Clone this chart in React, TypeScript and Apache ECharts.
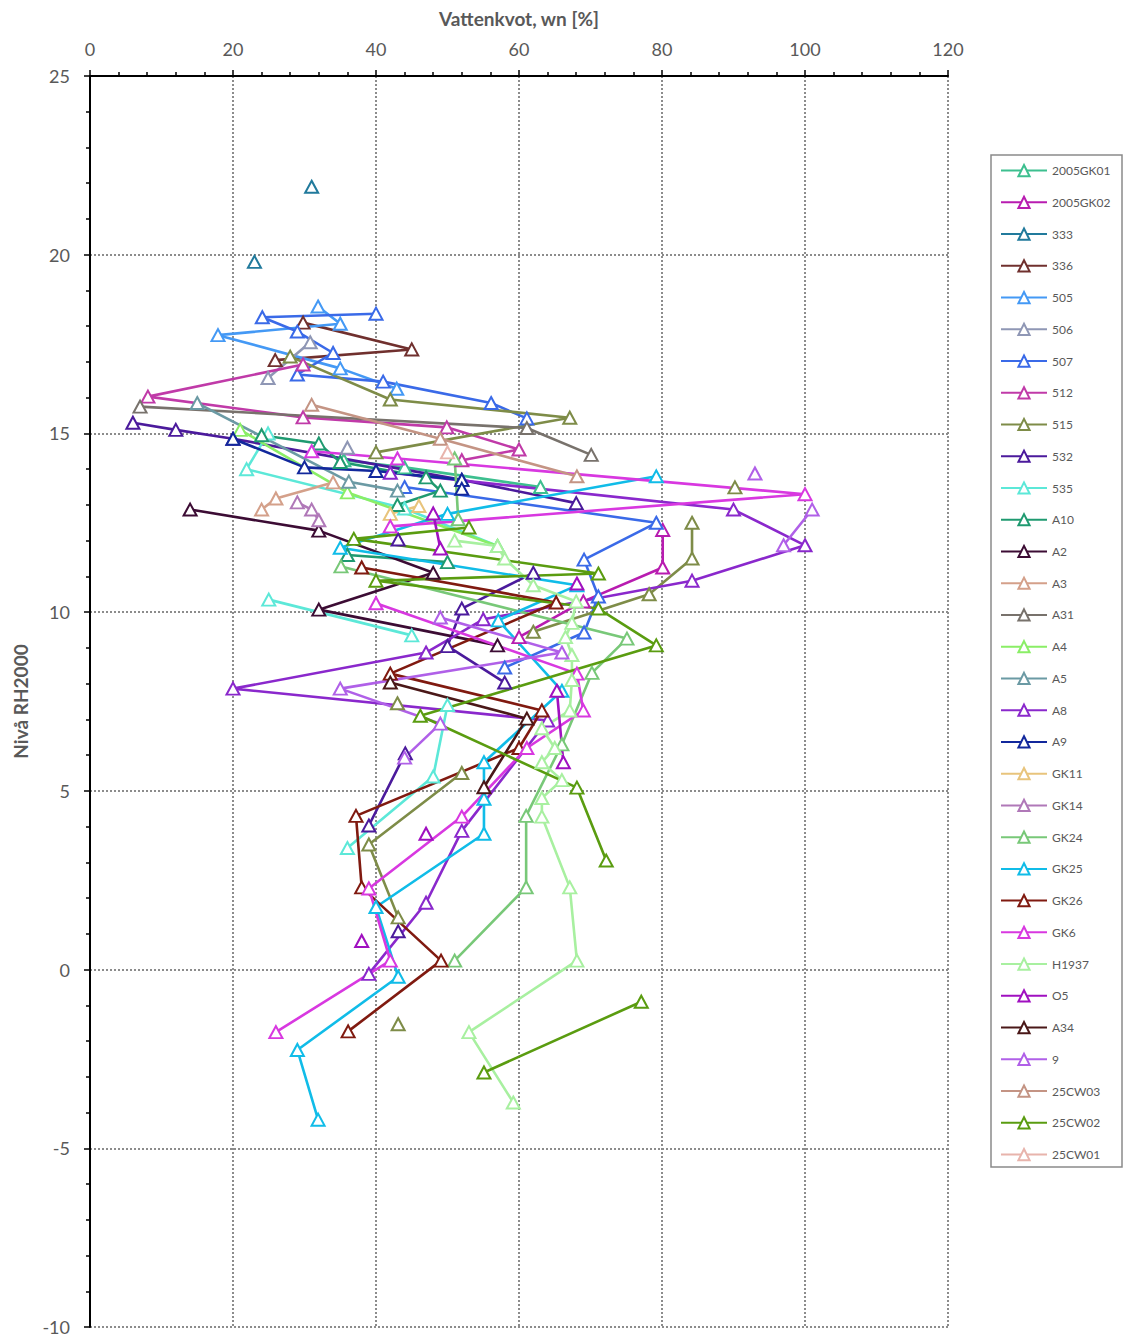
import React, { useEffect, useRef } from "react";
import * as echarts from "echarts";

// Water content (x, %) against level RH2000 (y, m) per borehole.
// A ["-", "-"] entry breaks the line between samples.
const GAP: any = ["-", "-"];

const xTicks = [0, 20, 40, 60, 80, 100, 120];
const yTicks = [-10, -5, 0, 5, 10, 15, 20, 25];

const s2005GK01 = [[35.5, 14.25], [44, 14.05], [63, 13.5]];
const s2005GK02 = [[80.1, 12.3], [80.1, 11.25], [69, 10.3], [60, 9.3]];
const s333 = [[31, 21.9], GAP, [23, 19.8]];
const s336 = [[29.8, 18.1], [45, 17.35], [25.9, 17.05]];
const s505 = [[31.9, 18.55], [35, 18.07], [17.9, 17.75], [35, 16.82], [42.9, 16.25]];
const s506 = [[30.8, 17.55], [24.9, 16.55], GAP, [36, 14.6]];
const s507 = [
  [40, 18.35], [24.1, 18.25], [29, 17.85], [34, 17.25], [29, 16.65], [41, 16.45],
  [56.1, 15.85], [61.1, 15.42], GAP, [44, 13.5], [79.2, 12.5], [69.1, 11.47],
  [71.1, 10.44], [69.1, 9.43], [58, 8.45],
];
const s512 = [[29.8, 16.93], [8.1, 16.03], [29.8, 15.45], [49.9, 15.17], [60, 14.55], [52, 14.25]];
const s515 = [
  [28, 17.15], [42, 15.95], [67.1, 15.44], [40, 14.47], GAP, [90.2, 13.49], GAP,
  [84.2, 12.5], [84.2, 11.5], [78.2, 10.5], [62, 9.45], GAP, [43, 7.45], GAP,
  [52, 5.5], [39, 3.5], [43.1, 1.46], GAP, [43.1, -1.53],
];
const s532 = [
  [6, 15.3], [12, 15.1], [20, 14.85], [52, 13.7], [68, 13.05], GAP, [43.1, 12.03], GAP,
  [62, 11.1], [52, 10.1], [50, 9.05], [58, 8.03], GAP, [44.1, 6.05], [39, 4.03], GAP, [43.1, 1.07],
];
const s535 = [
  [24.9, 15.0], [21.9, 14.0], [44, 12.9], [57, 11.85], GAP, [25, 10.35], [45, 9.35], GAP,
  [50, 7.4], [48, 5.4], [36, 3.4],
];
const sA10 = [[24, 14.95], [32, 14.72], [35, 14.2], [47, 13.77], [49, 13.4], [43, 13.0], GAP, [36, 11.6], [50, 11.4]];
const sA2 = [[14, 12.87], [32, 12.28], [48, 11.1], [32, 10.07], [57, 9.07]];
const sA3 = [[34, 13.63], [26, 13.18], [24, 12.87]];
const sA31 = [[7, 15.75], [61.1, 15.15], [70.1, 14.4]];
const sA4 = [[21, 15.1], [36, 13.35], [57, 11.85]];
const sA5 = [[15, 15.85], [36.2, 13.65], [43, 13.4]];
const sA8 = [
  [42, 13.9], [90, 12.87], [100, 11.87], [84.2, 10.88], [55, 9.8], [47, 8.87], [20, 7.86],
  [64, 6.97], [52, 3.88], [47, 1.87], [39, -0.12],
];
const sA9 = [[20, 14.85], [30, 14.05], [40, 13.95], [52, 13.7], [52, 13.45]];
const sGK11 = [[46, 12.97], [42, 12.75]];
const sGK14 = [[29, 13.07], [31, 12.87], [32, 12.57]];
const sGK24 = [
  [51, 14.3], [51.5, 12.6], GAP, [35.1, 11.28], [75.1, 9.26], [70.2, 8.3], [66, 6.3],
  [61, 4.3], [61, 2.3], [51, 0.25],
];
const sGK25 = [
  [79.2, 13.8], [50, 12.75], [35, 11.8], [68.1, 10.75], [57.1, 9.77], [66, 7.8], [55.1, 5.8],
  [55.1, 4.78], [55.1, 3.8], [40, 1.75], [43.1, -0.2], [29, -2.25], [31.9, -4.2],
];
const sGK26 = [
  [38, 11.25], [65.2, 10.27], [42, 8.28], [63.2, 7.25], [60, 6.2], [37.2, 4.3], [38, 2.3],
  [49.1, 0.25], [36.1, -1.73],
];
const sGK6 = [
  [31, 14.5], [43, 14.3], [100, 13.3], [42, 12.4], GAP, [40, 10.25], [68.1, 8.28], [69, 7.25],
  [61.1, 6.2], [52, 4.28], [39, 2.27], [42, 0.25], [26, -1.75],
];
const sH1937 = [
  [51, 12], [57, 11.85], [58, 11.5], [62, 10.75], [68, 10.3], [67.4, 9.7], [66.5, 9.3],
  [67.4, 8.8], [67.4, 8.1], [67.1, 7.25], [63.2, 6.75], [65, 6.2], [63.2, 5.8], [66, 5.3],
  [63.2, 4.8], [63.2, 4.28], [67.1, 2.3], [68.1, 0.25], [53, -1.75], [59.2, -3.72],
];
const sO5 = [[48, 12.76], [49, 11.78], GAP, [68.1, 10.8], GAP, [65.3, 7.8], [66.2, 5.8], GAP, [47, 3.8], GAP, [38, 0.8]];
const sA34 = [[42, 8.03], [61.1, 7.02], [55.1, 5.1]];
const s9 = [[93, 13.88], GAP, [101, 12.87], [97, 11.87], GAP, [49, 9.85], [66, 8.87], [35, 7.86], [49, 6.88], [44, 5.93]];
const s25CW03 = [[31, 15.8], [49, 14.85], [68.1, 13.8]];
const s25CW02 = [
  [53, 12.37], [36.9, 12.05], [71.1, 11.08], [40, 10.88], [71.1, 10.1], [79.2, 9.07],
  [46.2, 7.1], [68.1, 5.09], [72.2, 3.05], GAP, [77.1, -0.9], [55.1, -2.88],
];
const s25CW01 = [[50, 14.47]];

const boreholes: { name: string; color: string; data: any[] }[] = [
  { name: "2005GK01", color: "#3dbf8f", data: s2005GK01 },
  { name: "2005GK02", color: "#b81cb0", data: s2005GK02 },
  { name: "333", color: "#217a9c", data: s333 },
  { name: "336", color: "#70302e", data: s336 },
  { name: "505", color: "#4499f5", data: s505 },
  { name: "506", color: "#8f97b5", data: s506 },
  { name: "507", color: "#3a6ae8", data: s507 },
  { name: "512", color: "#c03aa8", data: s512 },
  { name: "515", color: "#7e8c48", data: s515 },
  { name: "532", color: "#4b1a9c", data: s532 },
  { name: "535", color: "#5ce8d8", data: s535 },
  { name: "A10", color: "#1f9a70", data: sA10 },
  { name: "A2", color: "#3c0c34", data: sA2 },
  { name: "A3", color: "#d4a08a", data: sA3 },
  { name: "A31", color: "#78726c", data: sA31 },
  { name: "A4", color: "#8aee66", data: sA4 },
  { name: "A5", color: "#6b9aa4", data: sA5 },
  { name: "A8", color: "#8a28cc", data: sA8 },
  { name: "A9", color: "#12289c", data: sA9 },
  { name: "GK11", color: "#e8c47c", data: sGK11 },
  { name: "GK14", color: "#b078b8", data: sGK14 },
  { name: "GK24", color: "#78c878", data: sGK24 },
  { name: "GK25", color: "#10bce8", data: sGK25 },
  { name: "GK26", color: "#801a10", data: sGK26 },
  { name: "GK6", color: "#d838e0", data: sGK6 },
  { name: "H1937", color: "#a8f0a0", data: sH1937 },
  { name: "O5", color: "#a010c0", data: sO5 },
  { name: "A34", color: "#4a1818", data: sA34 },
  { name: "9", color: "#b060e8", data: s9 },
  { name: "25CW03", color: "#c49484", data: s25CW03 },
  { name: "25CW02", color: "#5a9c10", data: s25CW02 },
  { name: "25CW01", color: "#e8b4ac", data: s25CW01 },
];

const FONT = 'Lato, "Liberation Sans", sans-serif';
const TEXT = "#595959";

export default function App() {
  const ref = useRef<HTMLDivElement>(null);

  useEffect(() => {
    document.body.style.margin = "0";
    if (!ref.current) return;
    const chart = echarts.init(ref.current, undefined, { renderer: "svg" });

    const gridLine = { show: true, lineStyle: { color: "#8c8c8c", type: [2, 2] as any, width: 2 } };

    chart.setOption({
      animation: false,
      backgroundColor: "#ffffff",
      textStyle: { fontFamily: FONT },
      grid: {
        left: 90,
        top: 76,
        right: 177,
        bottom: 11,
        containLabel: false,
        outerBoundsMode: "none",
      },
      xAxis: {
        type: "value",
        position: "top",
        min: xTicks[0],
        max: xTicks[xTicks.length - 1],
        interval: 20,
        name: "Vattenkvot, wn [%]",
        nameLocation: "middle",
        nameGap: 48,
        nameTextStyle: { fontSize: 19, fontWeight: "bold", color: TEXT, fontFamily: FONT },
        axisLine: { show: true, onZero: false, lineStyle: { color: "#000", width: 2 } },
        axisTick: { show: true, length: 6, lineStyle: { color: "#000", width: 1.5 } },
        minorTick: { show: true, splitNumber: 5, length: 4, lineStyle: { color: "#000", width: 1.5 } },
        axisLabel: { fontSize: 18, color: TEXT, margin: 18, fontFamily: FONT },
        splitLine: gridLine,
      },
      yAxis: {
        type: "value",
        min: yTicks[0],
        max: yTicks[yTicks.length - 1],
        interval: 5,
        name: "Nivå RH2000",
        nameLocation: "middle",
        nameGap: 60,
        nameRotate: 90,
        nameTextStyle: { fontSize: 19, fontWeight: "bold", color: TEXT, fontFamily: FONT },
        axisLine: { show: true, onZero: false, lineStyle: { color: "#000", width: 2 } },
        axisTick: { show: true, length: 6, lineStyle: { color: "#000", width: 1.5 } },
        minorTick: { show: true, splitNumber: 5, length: 4, lineStyle: { color: "#000", width: 1.5 } },
        axisLabel: { fontSize: 18, color: TEXT, margin: 20, fontFamily: FONT },
        splitLine: gridLine,
      },
      legend: {
        orient: "vertical",
        left: 1000,
        top: 164,
        padding: 0,
        itemWidth: 46,
        itemHeight: 14,
        itemGap: 18.54,
        textStyle: { fontSize: 12, color: TEXT, fontFamily: FONT },
        data: boreholes.map((b) => b.name),
      },
      graphic: [
        {
          type: "rect",
          shape: { x: 991, y: 155, width: 131, height: 1012 },
          style: { fill: "none", stroke: "#8a8a8a", lineWidth: 1.5 },
          silent: true,
        },
      ],
      series: boreholes.map((b) => ({
        type: "line",
        name: b.name,
        data: b.data,
        connectNulls: false,
        symbol: "emptyTriangle",
        symbolSize: [13, 12],
        showSymbol: true,
        lineStyle: { width: 2.6, color: b.color },
        itemStyle: { color: b.color, borderColor: b.color, borderWidth: 2.2 },
        emphasis: { disabled: true },
      })),
    });

    return () => chart.dispose();
  }, []);

  return <div ref={ref} style={{ width: 1125, height: 1338 }} />;
}
